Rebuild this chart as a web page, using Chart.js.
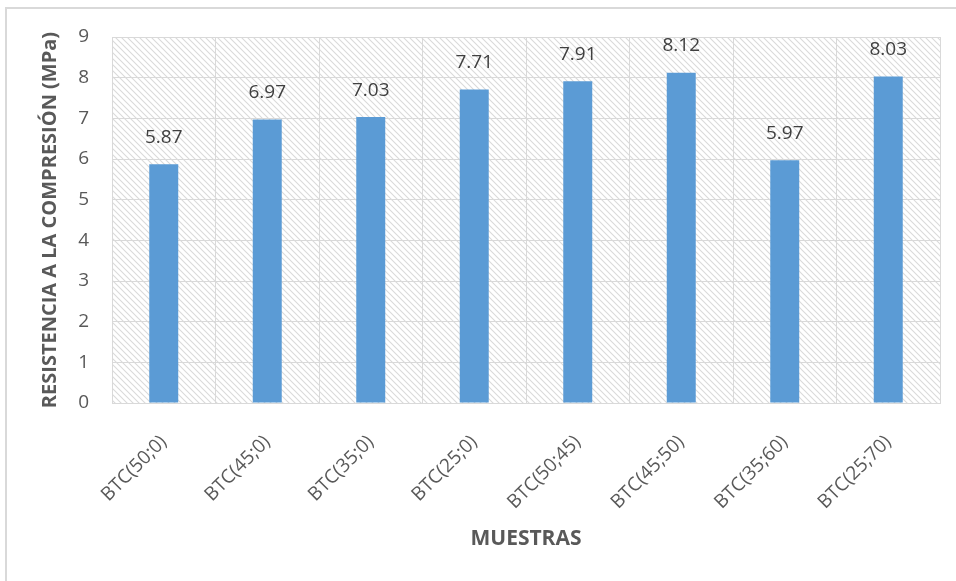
<!DOCTYPE html>
<html>
<head>
<meta charset="utf-8">
<title>Resistencia a la compresión</title>
<script src="https://cdn.jsdelivr.net/npm/chart.js@4.4.1/dist/chart.umd.min.js"></script>
<style>
    html, body { margin: 0; padding: 0; background: #fff; }
    #wrap { position: relative; width: 956px; height: 581px; overflow: hidden; }
    #frame {
        position: absolute; left: 5px; top: 7px; right: -10px; bottom: -10px;
        border-left: 2px solid #d9d9d9; border-top: 2px solid #d9d9d9;
    }
    #chart { position: absolute; left: 0; top: 0; }
</style>
</head>
<body>
<div id="wrap">
    <div id="frame"></div>
    <canvas id="chart" width="956" height="581"></canvas>
</div>
<script>
    // Muestras y resistencia (MPa)
    const muestras = ['BTC(50;0)', 'BTC(45;0)', 'BTC(35;0)', 'BTC(25;0)', 'BTC(50;45)', 'BTC(45;50)', 'BTC(35;60)', 'BTC(25;70)'];
    const resistencia = [5.87, 6.97, 7.03, 7.71, 7.91, 8.12, 5.97, 8.03];
    const yTicks = [0, 1, 2, 3, 4, 5, 6, 7, 8, 9];

    const colors = {
        bar: '#5b9bd5',
        grid: '#d9d9d9',
        hatch: '#dadada',
        tick: '#595959',
        label: '#404040'
    };
    const fontFamily = '"Open Sans", "Noto Sans", sans-serif';

    // Diagonal hatch tile for the plot background
    function makeHatch() {
        const s = 6;
        const tile = document.createElement('canvas');
        tile.width = s;
        tile.height = s;
        const c = tile.getContext('2d');
        c.strokeStyle = colors.hatch;
        c.lineWidth = 1.1;
        c.beginPath();
        c.moveTo(-1, -1);
        c.lineTo(s + 1, s + 1);
        c.moveTo(-1, s - 1);
        c.lineTo(1, s + 1);
        c.moveTo(s - 1, -1);
        c.lineTo(s + 1, 1);
        c.stroke();
        return tile;
    }

    const hatchBackground = {
        id: 'hatchBackground',
        beforeDraw(chart) {
            const { ctx, chartArea: { left, top, width, height } } = chart;
            ctx.save();
            ctx.fillStyle = ctx.createPattern(makeHatch(), 'repeat');
            ctx.fillRect(left, top, width, height);
            ctx.restore();
        }
    };

    // Value labels above each bar
    const valueLabels = {
        id: 'valueLabels',
        afterDatasetsDraw(chart) {
            const { ctx } = chart;
            const meta = chart.getDatasetMeta(0);
            ctx.save();
            ctx.font = '19px ' + fontFamily;
            ctx.fillStyle = colors.label;
            ctx.textAlign = 'center';
            ctx.textBaseline = 'middle';
            meta.data.forEach((bar, i) => {
                ctx.fillText(resistencia[i].toFixed(2), bar.x, bar.y - 27);
            });
            ctx.restore();
        }
    };

    new Chart(document.getElementById('chart').getContext('2d'), {
        type: 'bar',
        data: {
            labels: muestras,
            datasets: [{
                data: resistencia,
                backgroundColor: colors.bar,
                borderWidth: 0,
                barPercentage: 0.28,
                categoryPercentage: 1
            }]
        },
        options: {
            responsive: false,
            animation: false,
            layout: { padding: { top: 37, right: 16, left: 0, bottom: 0 } },
            plugins: {
                legend: { display: false },
                tooltip: { enabled: false }
            },
            scales: {
                x: {
                    grid: { color: colors.grid, drawTicks: false, offset: true },
                    border: { color: colors.grid },
                    ticks: {
                        color: colors.tick,
                        font: { family: fontFamily, size: 19 },
                        maxRotation: 45,
                        minRotation: 45,
                        padding: 28
                    },
                    title: {
                        display: true,
                        text: 'MUESTRAS',
                        color: colors.tick,
                        font: { family: fontFamily, size: 21, weight: 'bold' },
                        padding: { top: 0, bottom: 29 }
                    },
                    afterFit(scale) { scale.height = 178; }
                },
                y: {
                    min: 0,
                    max: 9,
                    afterBuildTicks(scale) {
                        scale.ticks = yTicks.map(v => ({ value: v }));
                    },
                    grid: { color: colors.grid, drawTicks: false },
                    border: { color: colors.grid },
                    ticks: {
                        color: colors.tick,
                        font: { family: fontFamily, size: 19 },
                        padding: 23
                    },
                    title: {
                        display: true,
                        text: 'RESISTENCIA A LA COMPRESIÓN (MPa)',
                        color: colors.tick,
                        font: { family: fontFamily, size: 20, weight: 'bold' },
                        padding: { top: 38, bottom: 0 }
                    },
                    afterFit(scale) { scale.width = 112; }
                }
            }
        },
        plugins: [hatchBackground, valueLabels]
    });
</script>
</body>
</html>
